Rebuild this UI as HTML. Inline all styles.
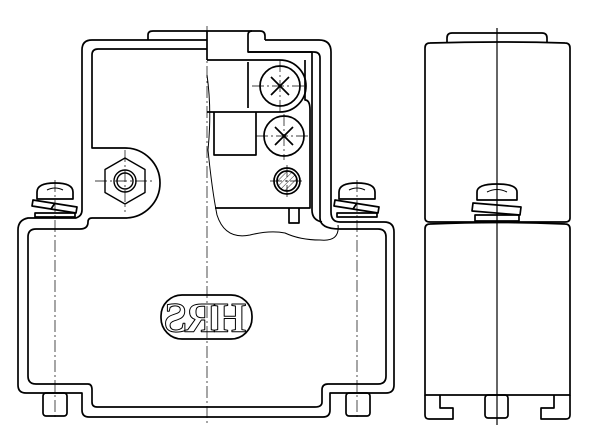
<!DOCTYPE html>
<html><head><style>html,body{margin:0;padding:0;background:#fff}svg{display:block}</style></head>
<body>
<svg width="600" height="446" viewBox="0 0 600 446" xmlns="http://www.w3.org/2000/svg" fill="none" stroke="#000" stroke-width="1.7" stroke-linejoin="round">
<defs>
<pattern id="h" width="4" height="4" patternUnits="userSpaceOnUse" patternTransform="rotate(45)"><line x1="0" y1="0" x2="0" y2="4" stroke="#000" stroke-width="0.8"/></pattern>
</defs>
<path d="M148 40 V35 Q148 31 153 31 H260 Q265 31 265 36 V40"/>
<path d="M207 40 H92 Q82 40 82 50 V210 Q82 216 76 218 H28 Q18 220 18 230 V385 Q18 393 26 393 H82 V410 Q82 417 89 417 H323 Q330 417 330 410 V393 H386 Q394 393 394 385 V232 Q394 222 384 222 H340 Q331 222 331 212 V52 Q331 40 319 40 H265"/>
<path d="M207 49 H98 Q92 49 92 55 V148 H125 A35 35 0 0 1 125 218 H92 Q88 218 88 222 Q88 229 80 229 H36 Q28 229 28 237 V376 Q28 384 36 384 H88 Q92 384 92 390 V402 Q92 407 97 407 H315 Q322 407 322 402 V390 Q322 384 328 384 H378 Q386 384 386 376 V237 Q386 229 378 229 H340 Q320 229 320 218 V58 Q320 52 314 52 H248 V35"/>
<path d="M248 52 H312 V210 Q312 220 322 222"/>
<path d="M207 31 V60 M248 35 Q248 31 252 31"/>
<g stroke-width="1.4">
<polygon points="125,158 145,169.5 145,192.5 125,204 105,192.5 105,169.5"/>
<circle cx="125" cy="181" r="11"/><circle cx="125" cy="181" r="8"/>
</g>
<path d="M207 60 H280 A26 26 0 0 1 280 112 H207"/>
<path d="M248 62 V108"/>
<circle cx="280" cy="86" r="20"/>
<path d="M271 77 L289 95 M289 77 L271 95"/>
<path d="M214 112 V155 H256 V112"/>
<circle cx="284" cy="136" r="20"/>
<path d="M275 127 L293 145 M293 127 L275 145"/>
<circle cx="287" cy="181" r="13"/>
<circle cx="287" cy="181" r="10" fill="url(#h)"/>
<path d="M305 60 V100 Q310 100 310 110 V208 H215"/>
<path d="M289 208 V223 H299 V208"/>
<path d="M207 75 Q212 110 208 150 Q212 190 217 215 Q225 240 250 235 Q270 230 285 233 Q300 240 320 240 Q340 242 338 225" stroke-width="1"/>
<g id="scr">
<path d="M37 199 V192 Q37 183 55 183 Q73 183 73 192 V199 Z"/>
<path d="M47 190 Q55 186 63 190" stroke-width="1"/>
<path d="M33 200 L77 207 L76 213 L32 206 Z"/>
<path d="M55 203 l-4 6"/>
<path d="M35 213 H75 V217 H35 Z"/>
</g>
<use href="#scr" x="302"/>
<rect x="43" y="393" width="24" height="23" rx="3"/>
<rect x="346" y="393" width="24" height="23" rx="3"/>
<rect x="161" y="295" width="91" height="44" rx="21"/>
<text x="-206" y="332" transform="scale(-1,1)" text-anchor="middle" font-family="Liberation Serif, serif" font-weight="bold" font-size="42" stroke-width="1" fill="none" letter-spacing="-2">HRS</text>
<g stroke-width="0.7" stroke-dasharray="12 3 2 3">
<path d="M207 26 V425"/>
<path d="M55 180 V420 M357 180 V420"/>
<path d="M95 181 H155 M125 150 V212"/>
<path d="M252 86 H305 M280 60 V112 M256 136 H310 M284 114 V160 M270 181 H304 M287 165 V197"/>
</g>
<path d="M447 43 V38 Q447 33 452 33 H542 Q547 33 547 38 V43"/>
<path d="M430 43 Q425 43 425 48 V218 Q425 222 430 222 H565 Q570 222 570 218 V48 Q570 43 565 43 Q500 41 430 43"/>
<path d="M430 224 Q500 221 565 224 Q570 224 570 229 V395 H425 V229 Q425 224 430 224"/>
<path d="M425 395 V415 Q425 419 429 419 H453 V408 H440 V395"/>
<path d="M570 395 V415 Q570 419 566 419 H541 V408 H554 V395"/>
<rect x="485" y="395" width="23" height="23" rx="3"/>
<path d="M477 200 V192 Q477 184 497 184 Q517 184 517 192 V200 Z"/>
<path d="M487 192 Q497 187 507 192" stroke-width="1"/>
<path d="M473 203 L521 207 L520 215 L472 211 Z"/>
<path d="M475 215 H519 V221 H475 Z"/>
<path d="M497 28 V425" stroke-width="1.2"/>
</svg>
</body></html>
